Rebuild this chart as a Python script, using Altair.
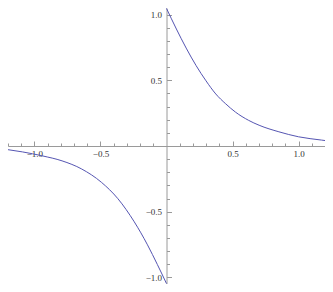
import altair as alt
import pandas as pd

# Curve values
right_x = [0.0, 0.075, 0.149, 0.224, 0.299, 0.373, 0.448, 0.522, 0.622, 0.701, 0.851, 1.0, 1.174, 1.2]
right_y = [1.047, 0.890, 0.745, 0.612, 0.496, 0.396, 0.321, 0.258, 0.195, 0.158, 0.108, 0.070, 0.045, 0.0415]
left_x = [-1.2, -1.09, -0.94, -0.791, -0.642, -0.493, -0.368, -0.244, -0.144, -0.069, 0.0]
left_y = [-0.028, -0.045, -0.075, -0.113, -0.175, -0.276, -0.401, -0.577, -0.752, -0.902, -1.047]

# Tick values
x_labels = [-1.0, -0.5, 0.5, 1.0]
y_labels = [-1.0, -0.5, 0.5, 1.0]
x_minor = [-1.2, -1.1, -0.9, -0.8, -0.7, -0.6, -0.4, -0.3, -0.2, -0.1,
           0.1, 0.2, 0.3, 0.4, 0.6, 0.7, 0.8, 0.9, 1.1, 1.2]
y_minor = [-0.9, -0.8, -0.7, -0.6, -0.4, -0.3, -0.2, -0.1,
           0.1, 0.2, 0.3, 0.4, 0.6, 0.7, 0.8, 0.9]

x_dom = [-1.2, 1.2]
y_dom = [-1.05, 1.05]
W, H = 317, 276

df = pd.DataFrame({
    "x": right_x + left_x,
    "y": right_y + left_y,
    "branch": ["right"] * len(right_x) + ["left"] * len(left_x),
})

# pixel position of the origin inside the plot area
x0 = (0 - x_dom[0]) / (x_dom[1] - x_dom[0]) * W
y0 = (y_dom[1] - 0) / (y_dom[1] - y_dom[0]) * H

AX = "#9a9a9a"
FONT = "Liberation Serif"
xs = alt.Scale(domain=x_dom, nice=False, zero=False)
ys = alt.Scale(domain=y_dom, nice=False, zero=False)

base = alt.Chart(df)

line = base.mark_line(color="#5555b2", strokeWidth=1, interpolate="monotone").encode(
    x=alt.X("x:Q", scale=xs, axis=alt.Axis(
        orient="bottom", offset=-(H - y0), values=x_labels, format=".1f",
        ticks=False, grid=False, domainColor=AX, domainWidth=1,
        labelFont=FONT, labelFontSize=9, labelColor="#333", labelPadding=3,
        title=None)),
    y=alt.Y("y:Q", scale=ys, axis=alt.Axis(
        orient="left", offset=-x0, values=y_labels, format=".1f",
        ticks=False, grid=False, domainColor=AX, domainWidth=1,
        labelFont=FONT, labelFontSize=9, labelColor="#333", labelPadding=5,
        title=None)),
    detail="branch:N",
)

major = base.mark_line(opacity=0).encode(
    x=alt.X("x:Q", scale=xs, axis=alt.Axis(
        orient="top", offset=-y0, values=x_labels, labels=False, domain=False,
        grid=False, tickSize=5, tickColor=AX, title=None)),
    y=alt.Y("y:Q", scale=ys, axis=alt.Axis(
        orient="right", offset=x0 - W, values=y_labels, labels=False, domain=False,
        grid=False, tickSize=5, tickColor=AX, title=None)),
    detail="branch:N",
)

minor = base.mark_line(opacity=0).encode(
    x=alt.X("x:Q", scale=xs, axis=alt.Axis(
        orient="top", offset=-y0, values=x_minor, labels=False, domain=False,
        grid=False, tickSize=3, tickColor=AX, title=None)),
    y=alt.Y("y:Q", scale=ys, axis=alt.Axis(
        orient="right", offset=x0 - W, values=y_minor, labels=False, domain=False,
        grid=False, tickSize=3, tickColor=AX, title=None)),
    detail="branch:N",
)

chart = alt.layer(line, major, minor).resolve_axis(
    x="independent", y="independent"
).properties(
    width=W, height=H, padding=0, autosize="none", background="white"
).configure_view(stroke=None)

chart.save("out.html", embed_options={"renderer": "svg", "actions": False})
